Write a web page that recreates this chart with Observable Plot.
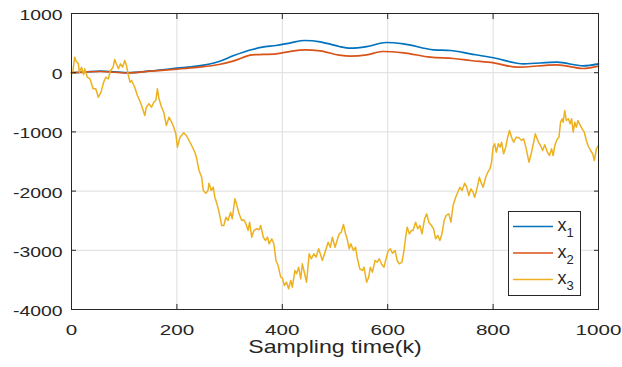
<!DOCTYPE html>
<html>
<head>
<meta charset="utf-8">
<script src="https://cdn.jsdelivr.net/npm/d3@7"></script>
<script src="https://cdn.jsdelivr.net/npm/@observablehq/plot@0.6"></script>
<style>
  body { margin: 0; background: #fff; }
  #wrap { position: relative; width: 622px; height: 367px; font-family: "Liberation Sans", Arial, Helvetica, sans-serif; }
  #legend { position: absolute; left: 508px; top: 211px; }
</style>
</head>
<body>
<div id="wrap"></div>
<script>
// ---- data ----
const seriesNames = ["x1", "x2", "x3"];
const seriesColors = ["#0072BD", "#D95319", "#EDB120"];
const xTicks = [0, 200, 400, 600, 800, 1000];
const yTicks = [-4000, -3000, -2000, -1000, 0, 1000];
const xLabel = "Sampling time(k)";

const x1 = [[0,0],[25,10],[55,25],[106,0],[150,30],[200,76],[238,110],[280,190],[308,290],[343,392],[362,431],[388,460],[416,505],[442,544],[472,521],[491,482],[508,443],[529,414],[560,440],[597,510],[630,487],[687,387],[719,375],[757,319],[801,252],[858,150],[921,177],[971,116],[1000,150]];

const x2 = [[0,0],[55,20],[106,-5],[150,25],[200,60],[238,90],[280,138],[308,200],[343,302],[388,319],[416,360],[442,387],[472,370],[508,296],[529,279],[560,300],[590,358],[630,336],[681,262],[725,240],[757,206],[801,167],[846,93],[921,133],[971,71],[1000,110]];

const x3 = [[0,0],[2,-19],[6,262],[8,206],[13,150],[15,8],[19,93],[23,-35],[25,66],[30,-76],[35,-103],[41,-272],[46,-272],[51,-414],[56,-329],[61,-160],[65,-76],[70,-103],[74,37],[79,93],[82,223],[85,150],[89,66],[93,150],[97,93],[101,206],[104,133],[108,-47],[111,-160],[114,-132],[120,-245],[125,-385],[128,-441],[133,-554],[139,-723],[142,-583],[147,-525],[152,-583],[156,-498],[160,-470],[163,-272],[166,-441],[171,-583],[175,-667],[180,-892],[185,-752],[190,-836],[194,-920],[198,-1032],[201,-1258],[206,-1089],[213,-1015],[218,-1061],[223,-1145],[228,-1230],[234,-1343],[237,-1427],[242,-1652],[247,-1765],[250,-1990],[255,-2035],[259,-1990],[261,-1866],[265,-1990],[269,-1934],[272,-2103],[276,-2215],[280,-2356],[285,-2581],[289,-2581],[293,-2441],[297,-2497],[302,-2356],[305,-2468],[310,-2130],[313,-2215],[318,-2384],[323,-2497],[327,-2485],[331,-2553],[335,-2666],[338,-2525],[342,-2779],[346,-2666],[351,-2637],[356,-2654],[359,-2581],[364,-2779],[368,-2834],[372,-2779],[375,-2890],[380,-2806],[384,-2890],[388,-3172],[392,-3257],[397,-3454],[400,-3465],[404,-3595],[408,-3539],[412,-3650],[416,-3510],[419,-3623],[424,-3341],[427,-3397],[431,-3285],[435,-3481],[438,-3228],[441,-3341],[446,-3539],[451,-3059],[455,-3144],[460,-3059],[464,-3117],[469,-2975],[472,-3059],[476,-3172],[481,-3032],[487,-2863],[491,-2948],[495,-2779],[500,-2948],[504,-2834],[508,-2721],[512,-2694],[516,-2564],[520,-2721],[523,-2806],[527,-2975],[530,-2890],[535,-3003],[539,-2948],[542,-3117],[547,-3313],[552,-3341],[555,-3285],[560,-3539],[564,-3454],[567,-3285],[571,-3370],[576,-3172],[580,-3201],[584,-3144],[588,-3228],[593,-3285],[596,-3172],[601,-3003],[605,-2975],[609,-3049],[614,-3003],[618,-3172],[622,-3228],[627,-3201],[631,-3003],[634,-2779],[637,-2610],[641,-2721],[645,-2666],[648,-2666],[653,-2525],[657,-2637],[661,-2581],[665,-2721],[670,-2468],[674,-2384],[678,-2525],[683,-2581],[687,-2637],[691,-2806],[695,-2750],[699,-2834],[703,-2721],[707,-2497],[711,-2412],[716,-2384],[720,-2525],[724,-2243],[729,-2103],[733,-2019],[737,-1934],[741,-1990],[746,-1866],[750,-1934],[754,-2074],[758,-1962],[762,-2019],[765,-2103],[770,-1934],[774,-1765],[777,-1849],[781,-1934],[786,-1765],[790,-1681],[794,-1624],[797,-1512],[800,-1258],[803,-1201],[806,-1343],[810,-1201],[813,-1258],[816,-1174],[820,-1370],[824,-1258],[827,-1117],[831,-976],[835,-1089],[839,-1174],[844,-1089],[849,-1100],[854,-1145],[858,-1117],[863,-1286],[868,-1512],[873,-1343],[877,-1174],[880,-1032],[886,-1174],[890,-1230],[894,-1314],[898,-1218],[903,-1343],[907,-1399],[911,-1286],[914,-1399],[917,-1230],[922,-1117],[925,-1089],[928,-836],[931,-779],[933,-836],[936,-639],[939,-808],[943,-779],[946,-864],[949,-779],[952,-1005],[955,-836],[958,-920],[961,-808],[964,-864],[969,-948],[973,-1005],[977,-1145],[980,-1230],[985,-1314],[989,-1370],[992,-1483],[996,-1286],[1000,-1230]];

const seriesData = [x1, x2, x3];

// ---- chart ----
const axisColor = "#262626";
const gridColor = "#dedede";
const fmt = d => String(d);
const blank = () => "";

const lineMarks = seriesData.map((s, i) =>
  Plot.line(s, {
    x: d => d[0], y: d => d[1],
    stroke: seriesColors[i],
    strokeWidth: i === 2 ? 1.5 : 1.7,
    strokeLinejoin: "round",
    curve: i === 2 ? "linear" : "monotone-x"
  })
);

const chart = Plot.plot({
  width: 622,
  height: 367,
  marginLeft: 71,
  marginRight: 24,
  marginTop: 13,
  marginBottom: 58,
  x: {domain: [0, 1000]},
  y: {domain: [-4000, 1000]},
  style: {fontFamily: '"Liberation Sans", Arial, Helvetica, sans-serif', fontSize: "15.5px", color: axisColor, background: "#fff", overflow: "visible"},
  marks: [
    Plot.gridX(xTicks, {stroke: gridColor, strokeOpacity: 1}),
    Plot.gridY(yTicks, {stroke: gridColor, strokeOpacity: 1}),
    ...lineMarks,
    Plot.frame({stroke: axisColor}),
    // tick labels
    Plot.axisX(xTicks, {anchor: "bottom", tickSize: 0, tickPadding: 14, tickFormat: fmt, label: null, fill: axisColor}),
    Plot.axisY(yTicks, {anchor: "left", tickSize: 0, tickPadding: 9, dy: 1.5, tickFormat: fmt, label: null, fill: axisColor}),
    // inward ticks on all four sides
    Plot.axisX(xTicks, {anchor: "bottom", tickSize: 5, dy: -5, tickFormat: blank, label: null, stroke: axisColor}),
    Plot.axisX(xTicks, {anchor: "top", tickSize: 5, dy: 5, tickFormat: blank, label: null, stroke: axisColor}),
    Plot.axisY(yTicks, {anchor: "left", tickSize: 5, dx: 5, tickFormat: blank, label: null, stroke: axisColor}),
    Plot.axisY(yTicks, {anchor: "right", tickSize: 5, dx: -5, tickFormat: blank, label: null, stroke: axisColor}),
    // axis label
    Plot.text([xLabel], {text: d => d, frameAnchor: "bottom", dy: 43.5, fontSize: 18.5, fill: axisColor})
  ]
});

const wrap = document.getElementById("wrap");
wrap.appendChild(chart);

// The reference's lettering is horizontally stretched; widen glyphs to match.
function stretch(sel, factor) {
  d3.select(chart).selectAll(sel).each(function() {
    if (!this.textContent) return;
    const w = this.getComputedTextLength();
    this.setAttribute("textLength", (w * factor).toFixed(2));
    this.setAttribute("lengthAdjust", "spacingAndGlyphs");
  });
}
stretch('g[aria-label="x-axis tick label"] text', 1.33);
stretch('g[aria-label="y-axis tick label"] text', 1.25);
stretch('g[aria-label="text"] text', 1.25);

// ---- legend (inside plot area, like the reference) ----
const lg = d3.select(wrap).append("svg")
  .attr("id", "legend")
  .attr("width", 73).attr("height", 85)
  .style("font-family", '"Liberation Sans", Arial, Helvetica, sans-serif');
lg.append("rect").attr("x", 0.5).attr("y", 0.5).attr("width", 72).attr("height", 84)
  .attr("fill", "#fff").attr("stroke", axisColor).attr("stroke-width", 1);
seriesNames.forEach((name, i) => {
  const cy = 15.5 + i * 26.5;
  lg.append("line").attr("x1", 5).attr("x2", 45).attr("y1", cy).attr("y2", cy)
    .attr("stroke", seriesColors[i]).attr("stroke-width", 1.7);
  const t = lg.append("text").attr("x", 49.5).attr("y", cy + 4.5).attr("font-size", 18).attr("fill", axisColor);
  t.append("tspan").text(name.slice(0, 1));
  t.append("tspan").attr("dy", 6).attr("font-size", 13).text(name.slice(1));
});
</script>
</body>
</html>
